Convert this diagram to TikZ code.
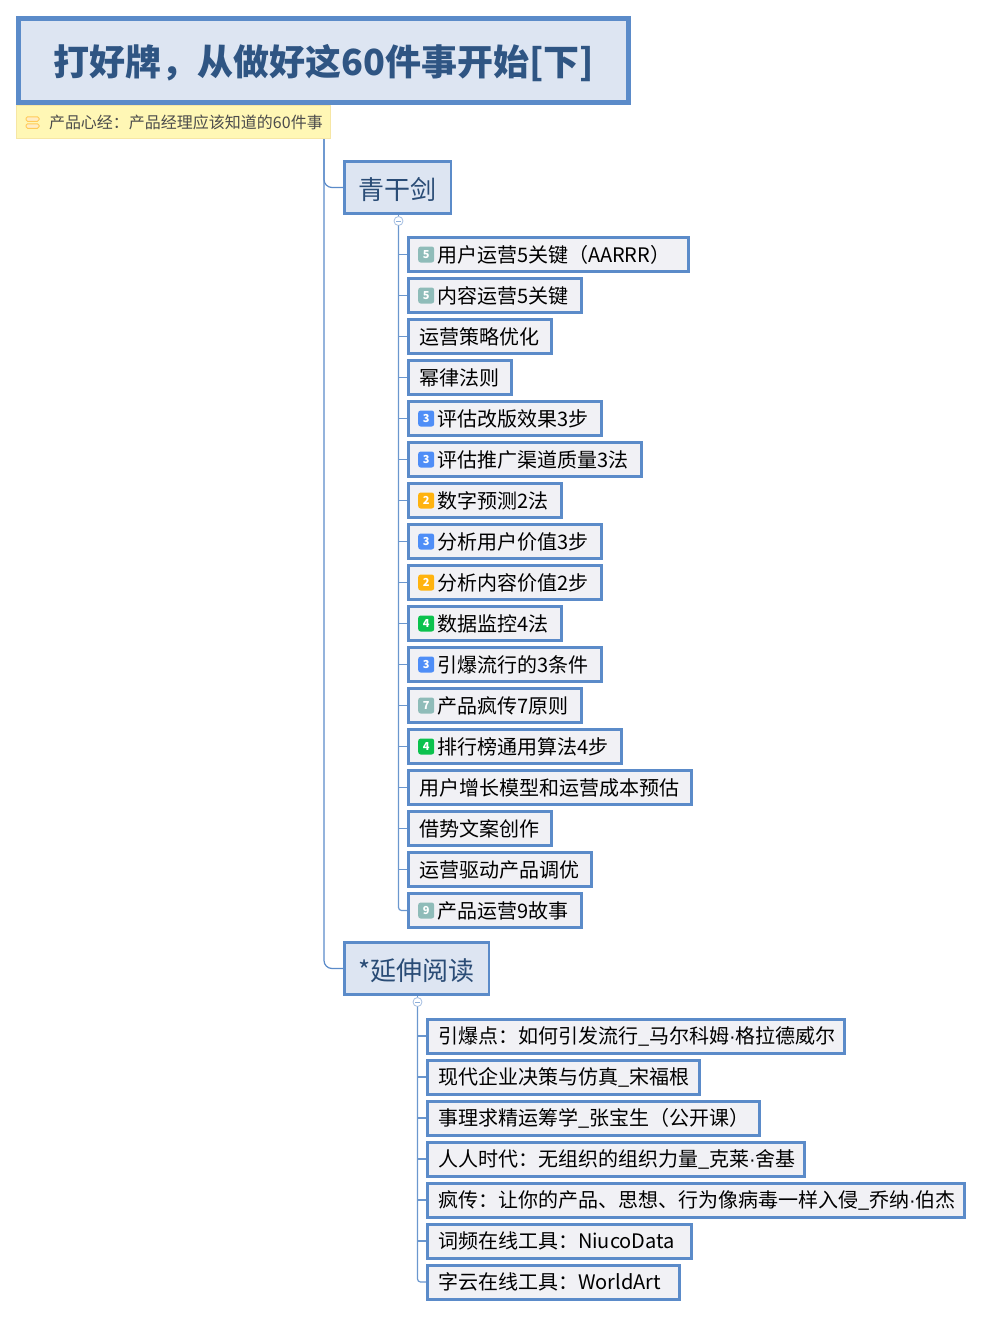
\documentclass[tikz,border=0pt]{standalone}
\usepackage{fontspec}
\setmainfont{Noto Sans CJK SC}
\newfontfamily\dotfont{Liberation Sans}
\newcommand{\namedot}{{\dotfont ·}}
\usetikzlibrary{positioning}

\definecolor{mapblue}{HTML}{5B8BC9}
\definecolor{mapink}{HTML}{2F5583}
\definecolor{rootfill}{HTML}{DDE5F2}
\definecolor{leaffill}{HTML}{F1F1F5}
\definecolor{notefill}{HTML}{FFF7B5}
\definecolor{noteline}{HTML}{F6E6A4}
\definecolor{teal5}{HTML}{8FBCB9}
\definecolor{blue3}{HTML}{4F8EF7}
\definecolor{orange2}{HTML}{FFB30F}
\definecolor{green4}{HTML}{0CC24E}

\begin{document}
\begin{tikzpicture}[
    x=1pt, y=-1pt,
    rootbox/.style={
        draw=mapblue, line width=5pt, fill=rootfill, text=mapink,
        minimum width=610pt, minimum height=84pt, text height=33pt, text depth=4pt,
        font=\fontsize{36}{40}\selectfont\bfseries
    },
    notebox/.style={
        draw=noteline, line width=1pt, fill=notefill, text=black!70, anchor=west,
        text width=303pt, inner xsep=5.5pt, inner ysep=0pt, minimum height=33pt,
        font=\fontsize{16}{18}\selectfont
    },
    notebar/.style={
        draw=orange2!70, fill=orange2!25, line width=1pt, rounded corners=1.5pt,
        minimum width=13pt, minimum height=4.5pt, inner sep=0pt
    },
    topic/.style={
        draw=mapblue, line width=2.5pt, fill=rootfill, text=mapink!90!black, anchor=west,
        minimum height=52pt, inner xsep=0pt, text height=28pt, text depth=4pt,
        font=\fontsize{26}{30}\selectfont
    },
    leaf/.style={
        draw=mapblue, line width=3pt, fill=leaffill, text=black, anchor=west,
        text width=#1pt-24pt, inner xsep=10.5pt, inner ysep=7pt, align=left,
        text height=17.5pt, text depth=2.5pt, font=\fontsize{20}{24}\selectfont
    },
    leafnum/.style={
        leaf=#1, execute at begin node={\hspace*{18pt}}
    },
    badge/.style={
        rounded corners=2.5pt, minimum size=16pt, inner sep=0pt, text=white,
        font=\fontsize{11}{12}\selectfont\bfseries
    },
    toggle/.style={
        circle, draw=mapblue!55, fill=white, line width=.8pt, minimum size=9pt, inner sep=0pt,
        path picture={\draw[mapblue!70, line width=.8pt] ([xshift=-2.5pt]path picture bounding box.center) -- ([xshift=2.5pt]path picture bounding box.center);}
    },
    trunk/.style={draw=mapblue, line width=1.2pt},
    twig/.style={draw=mapblue!90, line width=1.2pt}
]

\useasboundingbox (0,0) rectangle (982,1317);

% header
\node[rootbox] (Root) at (323.5,60.5) {打好牌，从做好这60件事开始[下]};
\node[notebox] (Note) at (16,122) {\hspace*{27pt}产品心经：产品经理应该知道的60件事};
\node[notebar] (NoteBarA) at (32.5,119) {};
\node[notebar] (NoteBarB) at (32.5,126) {};
\coordinate (Trunk) at (324,139);

% first branch
\node[topic, minimum width=106.5pt] (Sword) at (343,187.5) {青干剑};
\node[toggle] (SwordToggle) at (398.5,221) {};

\node[leafnum=283] (S1) at (407,254.5) {用户运营5关键（AARRR）};
\node[leafnum=176] (S2) at (407,295.5) {内容运营5关键};
\node[leaf=146] (S3) at (407,336.5) {运营策略优化};
\node[leaf=106] (S4) at (407,377.5) {幂律法则};
\node[leafnum=196] (S5) at (407,418.5) {评估改版效果3步};
\node[leafnum=236] (S6) at (407,459.5) {评估推广渠道质量3法};
\node[leafnum=156] (S7) at (407,500.5) {数字预测2法};
\node[leafnum=196] (S8) at (407,541.5) {分析用户价值3步};
\node[leafnum=196] (S9) at (407,582.5) {分析内容价值2步};
\node[leafnum=156] (S10) at (407,623.5) {数据监控4法};
\node[leafnum=196] (S11) at (407,664.5) {引爆流行的3条件};
\node[leafnum=176] (S12) at (407,705.5) {产品疯传7原则};
\node[leafnum=216] (S13) at (407,746.5) {排行榜通用算法4步};
\node[leaf=286] (S14) at (407,787.5) {用户增长模型和运营成本预估};
\node[leaf=146] (S15) at (407,828.5) {借势文案创作};
\node[leaf=186] (S16) at (407,869.5) {运营驱动产品调优};
\node[leafnum=176] (S17) at (407,910.5) {产品运营9故事};

\node[badge, fill=teal5, right=11pt of S1.west] (B1) {5};
\node[badge, fill=teal5, right=11pt of S2.west] (B2) {5};
\node[badge, fill=blue3, right=11pt of S5.west] (B5) {3};
\node[badge, fill=blue3, right=11pt of S6.west] (B6) {3};
\node[badge, fill=orange2, right=11pt of S7.west] (B7) {2};
\node[badge, fill=blue3, right=11pt of S8.west] (B8) {3};
\node[badge, fill=orange2, right=11pt of S9.west] (B9) {2};
\node[badge, fill=green4, right=11pt of S10.west] (B10) {4};
\node[badge, fill=blue3, right=11pt of S11.west] (B11) {3};
\node[badge, fill=teal5, right=11pt of S12.west] (B12) {7};
\node[badge, fill=green4, right=11pt of S13.west] (B13) {4};
\node[badge, fill=teal5, right=11pt of S17.west] (B17) {9};

% second branch
\node[topic, minimum width=144.5pt] (Reading) at (343,968.5) {*延伸阅读};
\node[toggle] (ReadingToggle) at (417.5,1002) {};

\node[leaf=420] (R1) at (426,1036) {引爆点：如何引发流行\_马尔科姆\namedot 格拉德威尔};
\node[leaf=275] (R2) at (426,1077) {现代企业决策与仿真\_宋福根};
\node[leaf=335] (R3) at (426,1118) {事理求精运筹学\_张宝生（公开课）};
\node[leaf=380] (R4) at (426,1159) {人人时代：无组织的组织力量\_克莱\namedot 舍基};
\node[leaf=540] (R5) at (426,1200) {疯传：让你的产品、思想、行为像病毒一样入侵\_乔纳\namedot 伯杰};
\node[leaf=267] (R6) at (426,1241) {词频在线工具：NiucoData};
\node[leaf=255] (R7) at (426,1282) {字云在线工具：WorldArt};

% connectors
\draw[trunk, rounded corners=8pt] (Trunk) |- (Sword.west);
\draw[trunk, rounded corners=8pt] (Trunk) |- (Reading.west);

\draw[twig] (Sword.south -| SwordToggle) -- (SwordToggle.north);
\draw[twig] (SwordToggle.south) |- (S1.west);
\draw[twig] (SwordToggle.south) |- (S2.west);
\draw[twig] (SwordToggle.south) |- (S3.west);
\draw[twig] (SwordToggle.south) |- (S4.west);
\draw[twig] (SwordToggle.south) |- (S5.west);
\draw[twig] (SwordToggle.south) |- (S6.west);
\draw[twig] (SwordToggle.south) |- (S7.west);
\draw[twig] (SwordToggle.south) |- (S8.west);
\draw[twig] (SwordToggle.south) |- (S9.west);
\draw[twig] (SwordToggle.south) |- (S10.west);
\draw[twig] (SwordToggle.south) |- (S11.west);
\draw[twig] (SwordToggle.south) |- (S12.west);
\draw[twig] (SwordToggle.south) |- (S13.west);
\draw[twig] (SwordToggle.south) |- (S14.west);
\draw[twig] (SwordToggle.south) |- (S15.west);
\draw[twig] (SwordToggle.south) |- (S16.west);
\draw[twig, rounded corners=3pt] (SwordToggle.south) |- (S17.west);

\draw[twig] (Reading.south -| ReadingToggle) -- (ReadingToggle.north);
\draw[twig] (ReadingToggle.south) |- (R1.west);
\draw[twig] (ReadingToggle.south) |- (R2.west);
\draw[twig] (ReadingToggle.south) |- (R3.west);
\draw[twig] (ReadingToggle.south) |- (R4.west);
\draw[twig] (ReadingToggle.south) |- (R5.west);
\draw[twig] (ReadingToggle.south) |- (R6.west);
\draw[twig, rounded corners=3pt] (ReadingToggle.south) |- (R7.west);

\end{tikzpicture}
\end{document}
